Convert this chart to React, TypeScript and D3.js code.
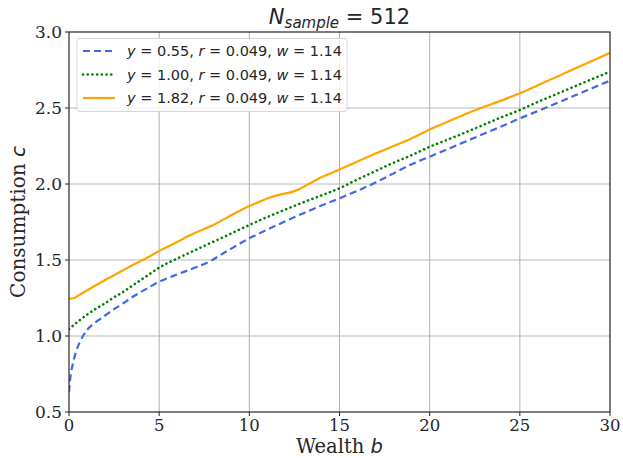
import React from "react";
import * as d3 from "d3";

const bLow = [0, 0.05, 0.1, 0.2, 0.4, 0.6, 0.8, 1.0, 1.3, 1.7, 2.0, 2.6, 3.0, 3.5, 4.0, 4.5, 5, 6, 7, 7.8, 8.5, 9, 10, 11, 12, 13, 14, 15, 16, 17, 18, 19, 20, 21, 22, 23, 24, 25, 26, 27, 28, 29, 30];
const cLow = [0.63, 0.7, 0.75, 0.81, 0.9, 0.96, 1.005, 1.04, 1.075, 1.11, 1.135, 1.185, 1.215, 1.255, 1.29, 1.325, 1.357, 1.405, 1.45, 1.49, 1.54, 1.575, 1.643, 1.7, 1.755, 1.808, 1.858, 1.906, 1.955, 2.01, 2.07, 2.13, 2.18, 2.23, 2.28, 2.33, 2.38, 2.432, 2.48, 2.53, 2.58, 2.63, 2.68];

const bMid = [0, 0.5, 1, 1.5, 2, 2.5, 3, 3.5, 4, 4.5, 5, 6, 7, 8, 9, 10, 11, 12, 13, 14, 15, 16, 17, 18, 19, 20, 21, 22, 23, 24, 25, 26, 27, 28, 29, 30];
const cMid = [1.045, 1.095, 1.14, 1.18, 1.215, 1.255, 1.29, 1.33, 1.37, 1.41, 1.45, 1.51, 1.565, 1.62, 1.675, 1.73, 1.783, 1.832, 1.88, 1.925, 1.972, 2.03, 2.085, 2.14, 2.19, 2.245, 2.292, 2.34, 2.39, 2.44, 2.487, 2.54, 2.59, 2.64, 2.69, 2.739];

const bHigh = [0, 0.3, 0.5, 1, 1.68, 2.5, 3.53, 4.49, 5, 5.69, 6.34, 7, 7.82, 8.19, 9, 10, 10.5, 11, 11.52, 12, 12.44, 13, 13.37, 14, 15, 16, 17, 18, 19, 20, 21, 22, 22.8, 24, 25, 26, 27, 28, 29, 30];
const cHigh = [1.245, 1.25, 1.265, 1.3, 1.347, 1.4, 1.467, 1.525, 1.56, 1.6, 1.64, 1.68, 1.72, 1.742, 1.795, 1.855, 1.88, 1.905, 1.925, 1.938, 1.95, 1.98, 2.005, 2.045, 2.095, 2.148, 2.2, 2.25, 2.3, 2.358, 2.41, 2.46, 2.498, 2.55, 2.597, 2.65, 2.703, 2.757, 2.81, 2.864];

const xTicks = [0, 5, 10, 15, 20, 25, 30];
const yTicks = [0.5, 1.0, 1.5, 2.0, 2.5, 3.0];
const legendY = ["0.55", "1.00", "1.82"];
const legendR = "0.049";
const legendW = "1.14";

const series = [
  { b: bLow, c: cLow, color: "#4169e1", dash: "7,4", width: 2.2, cap: "butt" },
  { b: bMid, c: cMid, color: "#008000", dash: "0.1,4.6", width: 2.6, cap: "round" },
  { b: bHigh, c: cHigh, color: "#ffa500", dash: null, width: 2.2, cap: "butt" },
];

export default function App() {
  const W = 623, H = 458;
  const left = 69, right = 610, top = 32, bottom = 412;
  const x = d3.scaleLinear().domain([0, 30]).range([left, right]);
  const y = d3.scaleLinear().domain([0.5, 3.0]).range([bottom, top]);
  const line = d3.line<[number, number]>().x(d => x(d[0])).y(d => y(d[1])).curve(d3.curveMonotoneX);
  const serif = "'DejaVu Serif', serif";
  const sans = "'DejaVu Sans', sans-serif";
  const spine = "#262626";

  return (
    <svg width={W} height={H} style={{ position: "absolute", left: 0, top: 0, background: "#fff" }}>
      <defs>
        <clipPath id="plotclip">
          <rect x={left} y={top} width={right - left} height={bottom - top} />
        </clipPath>
      </defs>
      <rect x={0} y={0} width={W} height={H} fill="#fff" />
      {yTicks.slice(1, -1).map(t => (
        <line key={"hg" + t} x1={left} x2={right} y1={y(t)} y2={y(t)} stroke="#dcdcdc" strokeWidth={2} />
      ))}
      {xTicks.slice(1, -1).map(t => (
        <line key={"vg" + t} x1={x(t)} x2={x(t)} y1={top} y2={bottom} stroke="#b0b0b0" strokeWidth={1} />
      ))}
      <g clipPath="url(#plotclip)">
        {series.map((s, i) => (
          <path
            key={i}
            d={line(s.b.map((bv, j) => [bv, s.c[j]] as [number, number])) || ""}
            fill="none"
            stroke={s.color}
            strokeWidth={s.width}
            strokeDasharray={s.dash || undefined}
            strokeLinecap={s.cap as any}
          />
        ))}
      </g>
      <rect x={left} y={top} width={right - left} height={bottom - top} fill="none" stroke={spine} strokeWidth={1.2} />
      {xTicks.map(t => (
        <g key={"xt" + t}>
          <line x1={x(t)} x2={x(t)} y1={bottom} y2={bottom + 4} stroke={spine} strokeWidth={1} />
          <text x={x(t)} y={430.5} textAnchor="middle" fontFamily={serif} fontSize={16.5} fill="#262626">{t}</text>
        </g>
      ))}
      {yTicks.map(t => (
        <g key={"yt" + t}>
          <line x1={left - 4} x2={left} y1={y(t)} y2={y(t)} stroke={spine} strokeWidth={1} />
          <text x={left - 7} y={y(t) + 6} textAnchor="end" fontFamily={serif} fontSize={17} fill="#262626">{t.toFixed(1)}</text>
        </g>
      ))}
      <text x={(left + right) / 2} y={453} textAnchor="middle" fontFamily={serif} fontSize={19.5} fill="#262626">
        Wealth <tspan fontStyle="italic" fontFamily={sans}>b</tspan>
      </text>
      <text transform={`translate(25,${(top + bottom) / 2}) rotate(-90)`} textAnchor="middle" fontFamily={serif} fontSize={20} fill="#262626">
        Consumption <tspan fontStyle="italic" fontFamily={sans}>c</tspan>
      </text>
      <text x={(left + right) / 2} y={24} textAnchor="middle" fontFamily={sans} fontSize={21} fill="#262626">
        <tspan fontStyle="italic">N</tspan>
        <tspan fontStyle="italic" fontSize={15} dy={4}>sample</tspan>
        <tspan dy={-4}> = 512</tspan>
      </text>
      <rect x={77} y={38.5} width={270} height={73} rx={3} fill="#fff" fillOpacity={0.85} stroke="#d6d6d6" strokeWidth={1} />
      {series.map((s, i) => {
        const ly = 51 + i * 23.5;
        return (
          <g key={"lg" + i}>
            <line x1={83} x2={115} y1={ly} y2={ly} stroke={s.color} strokeWidth={s.width} strokeDasharray={s.dash || undefined} strokeLinecap={s.cap as any} />
            <text x={127} y={ly + 5} fontFamily={sans} fontSize={14.5} fill="#262626">
              <tspan fontStyle="italic">y</tspan>
              <tspan>{` = ${legendY[i]}, `}</tspan>
              <tspan fontStyle="italic">r</tspan>
              <tspan>{` = ${legendR}, `}</tspan>
              <tspan fontStyle="italic">w</tspan>
              <tspan>{` = ${legendW}`}</tspan>
            </text>
          </g>
        );
      })}
    </svg>
  );
}
